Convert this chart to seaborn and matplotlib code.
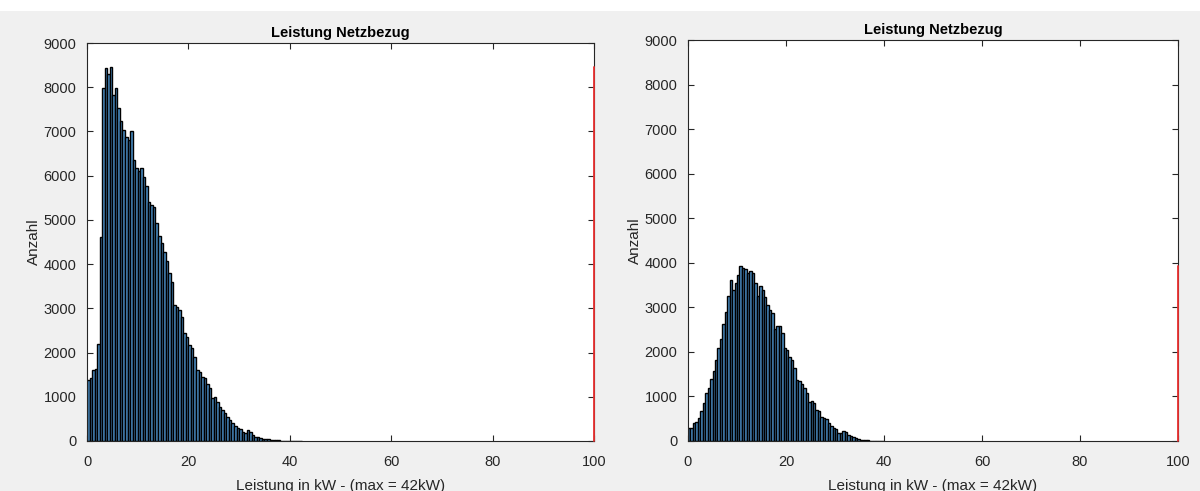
"""
Histogramm Leistung Netzbezug - zwei Varianten nebeneinander
"""

import numpy as np
import pandas as pd
import matplotlib
matplotlib.use('Agg')
import matplotlib.pyplot as plt
import seaborn as sns

bin_width = 0.5
limit_kw = 100

counts_left = [
    1380, 1420, 1600, 1620, 2200, 4610, 7990, 8440, 8300, 8450,
    7830, 7980, 7530, 7240, 7040, 6880, 6800, 7000, 6360, 6170,
    6100, 6170, 5980, 5770, 5410, 5340, 5300, 4920, 4640, 4470,
    4280, 4060, 3790, 3600, 3080, 3040, 2960, 2810, 2440, 2360,
    2170, 2100, 1910, 1610, 1550, 1450, 1420, 1300, 1190, 970,
    1000, 890, 780, 700, 630, 550, 480, 400, 340, 300,
    280, 200, 190, 250, 200, 130, 100, 90, 70, 55,
    45, 40, 20, 25, 20, 15, 10, 8, 5, 5,
    3, 2, 2, 1, 1,
]

counts_right = [
    285, 300, 400, 420, 510, 670, 845, 1070, 1180, 1400,
    1560, 1820, 2080, 2280, 2630, 2900, 3250, 3610, 3390, 3540,
    3730, 3930, 3880, 3870, 3780, 3820, 3770, 3540, 3250, 3470,
    3400, 3240, 3050, 2950, 2880, 2510, 2570, 2580, 2430, 2080,
    2050, 1880, 1820, 1630, 1380, 1350, 1290, 1180, 1070, 880,
    900, 860, 700, 670, 545, 520, 490, 400, 330, 290,
    260, 190, 175, 230, 210, 135, 115, 80, 60, 50,
    25, 20, 15, 12, 10, 8, 5, 3, 2, 1,
]

title = 'Leistung Netzbezug'
xlabel = 'Leistung in kW - (max = 42kW)'
ylabel = 'Anzahl'
xticks = [0, 20, 40, 60, 80, 100]
yticks = list(range(0, 9001, 1000))

sns.set_style('ticks')
plt.rcParams['font.family'] = ['Liberation Sans', 'DejaVu Sans']

fig = plt.figure(figsize=(12, 4.91), dpi=100)
fig.patch.set_facecolor('#f0f0f0')
# weisser Streifen oben
fig.patches.append(plt.Rectangle((0, 1 - 11 / 491), 1, 11 / 491, transform=fig.transFigure,
                                 facecolor='white', edgecolor='none', zorder=0))

ax_left = fig.add_axes([87 / 1200, 1 - 441 / 491, 507 / 1200, 398 / 491])
ax_right = fig.add_axes([688 / 1200, 1 - 441 / 491, 490 / 1200, 401 / 491])

dark = '#262626'

for ax, counts in [(ax_left, counts_left), (ax_right, counts_right)]:
    n = len(counts)
    centers = (np.arange(n) + 0.5) * bin_width
    df = pd.DataFrame({'kw': centers, 'anzahl': counts})
    sns.histplot(data=df, x='kw', weights='anzahl', binwidth=bin_width,
                 binrange=(0, n * bin_width), ax=ax,
                 color='#4a8dc4', edgecolor='black', linewidth=1.0, alpha=1.0)
    # rote Linie bei der Grenze, Hoehe = Maximum
    ax.plot([limit_kw, limit_kw], [0, max(counts)], color='#e8302f', lw=1.3, zorder=5,
            clip_on=False)

    ax.set_xlim(0, 100)
    ax.set_ylim(0, 9000)
    ax.set_xticks(xticks)
    ax.set_yticks(yticks)
    ax.set_facecolor('white')
    ax.tick_params(direction='in', length=4, width=0.8, colors=dark, labelsize=10.5,
                   top=True, right=True, labelcolor=dark)
    ax.tick_params(axis='x', pad=10)
    ax.tick_params(axis='y', pad=7.5)
    for sp in ax.spines.values():
        sp.set_visible(True)
        sp.set_color(dark)
        sp.set_linewidth(0.8)
    ax.set_title(title, fontsize=10.5, fontweight='bold', color='black', pad=4)
    ax.set_xlabel(xlabel, fontsize=11, color=dark, labelpad=7)
    ax.set_ylabel(ylabel, fontsize=11, color=dark, labelpad=2)

fig.savefig('out.png', dpi=100, facecolor=fig.get_facecolor())
